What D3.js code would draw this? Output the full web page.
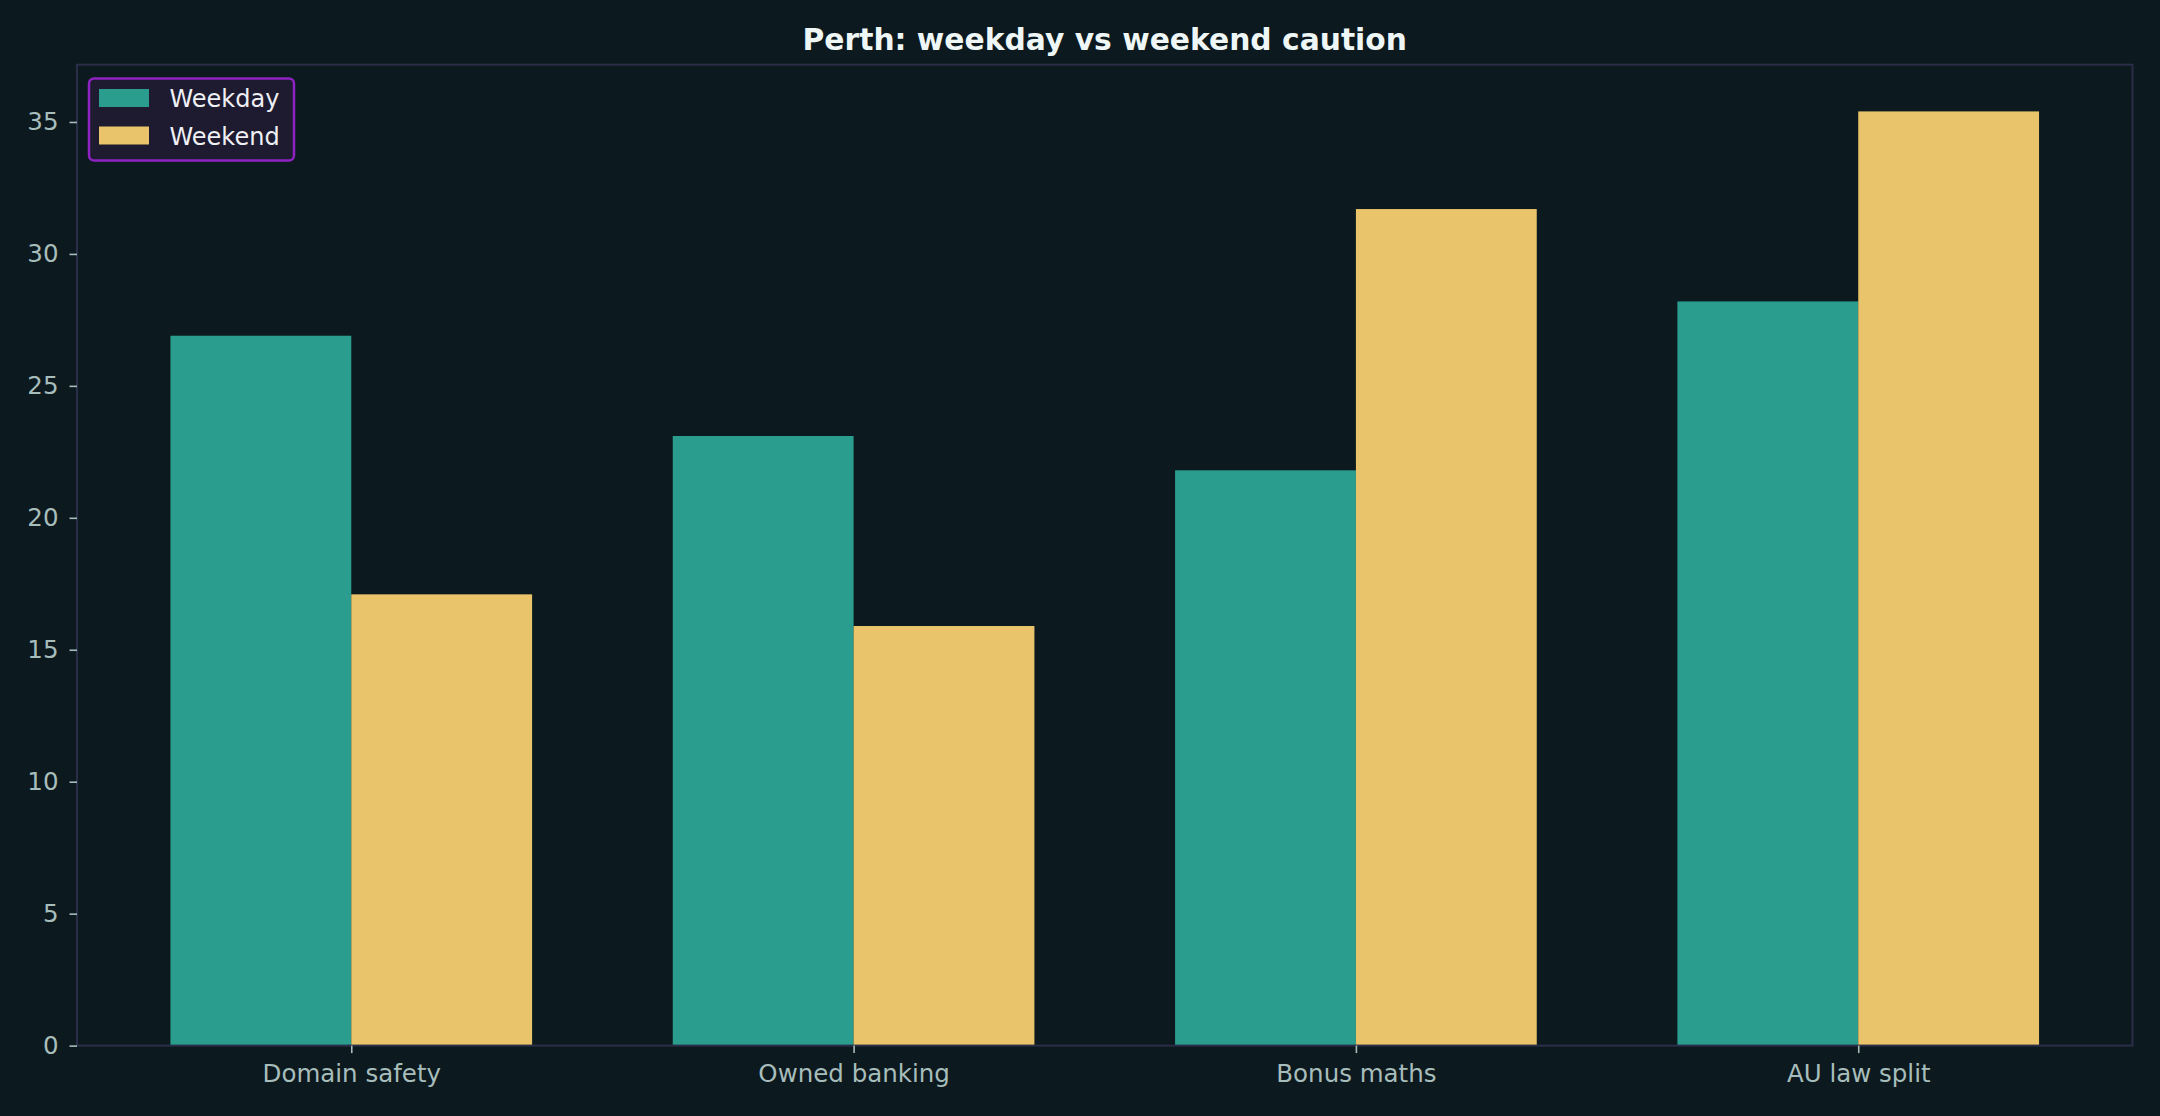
<!DOCTYPE html>
<html>
<head>
<meta charset="utf-8">
<script src="https://cdn.jsdelivr.net/npm/d3@7"></script>
<style>
  html, body { margin: 0; padding: 0; background: #0c191e; }
  svg { display: block; }
  text { font-family: "DejaVu Sans", sans-serif; }
</style>
</head>
<body>
<svg id="chart" width="2160" height="1116"></svg>
<script>
const categories = ["Domain safety", "Owned banking", "Bonus maths", "AU law split"];
const seriesNames = ["Weekday", "Weekend"];
const weekday = [26.9, 23.1, 21.8, 28.2];
const weekend = [17.1, 15.9, 31.7, 35.4];
const yTicks = [0, 5, 10, 15, 20, 25, 30, 35];
const titleText = "Perth: weekday vs weekend caution";

const W = 2160, H = 1116;
const margin = { left: 77, right: 2160 - 2132.5, top: 64.7, bottom: 1116 - 1045.6 };
const colors = ["#2a9d8f", "#e9c46a"];
const barW = 0.36;

const svg = d3.select("#chart");
svg.append("rect").attr("width", W).attr("height", H).attr("fill", "#0c191e");

const n = categories.length;
const span = (n - 1) + 2 * barW;
const x = d3.scaleLinear()
  .domain([-barW - 0.05 * span, (n - 1) + barW + 0.05 * span])
  .range([margin.left, W - margin.right]);
const yMax = d3.max(weekday.concat(weekend)) * 1.05;
const y = d3.scaleLinear().domain([0, yMax]).range([H - margin.bottom, margin.top]);

const series = [weekday, weekend];
const g = svg.append("g");
series.forEach((vals, si) => {
  g.selectAll(null).data(vals).enter().append("rect")
    .attr("x", (d, i) => x(i + (si === 0 ? -barW : 0)))
    .attr("width", (d, i) => x(i + barW) - x(i))
    .attr("y", d => y(d))
    .attr("height", d => y(0) - y(d))
    .attr("fill", colors[si]);
});

// frame
svg.append("rect")
  .attr("x", margin.left).attr("y", margin.top)
  .attr("width", W - margin.right - margin.left)
  .attr("height", H - margin.bottom - margin.top)
  .attr("fill", "none").attr("stroke", "#2a2e48").attr("stroke-width", 2);

// y axis
const yAxis = d3.axisLeft(y).tickValues(yTicks).tickSize(7.5).tickPadding(11).tickFormat(d3.format("d"));
const ya = svg.append("g").attr("transform", `translate(${margin.left},0)`).call(yAxis);
ya.select(".domain").remove();
ya.selectAll(".tick line").attr("stroke", "#a7bdbb").attr("stroke-width", 1.6);
ya.selectAll(".tick text").attr("fill", "#a7bdbb").style("font-size", "24.5px")
  .style("font-family", "DejaVu Sans");

// x axis
const xAxis = d3.axisBottom(x).tickValues(d3.range(n)).tickSize(7.5).tickPadding(12)
  .tickFormat(i => categories[i]);
const xa = svg.append("g").attr("transform", `translate(0,${H - margin.bottom})`).call(xAxis);
xa.select(".domain").remove();
xa.selectAll(".tick line").attr("stroke", "#a7bdbb").attr("stroke-width", 1.6);
xa.selectAll(".tick text").attr("fill", "#a7bdbb").style("font-size", "24.5px")
  .style("font-family", "DejaVu Sans");

// title
svg.append("text")
  .attr("x", (margin.left + W - margin.right) / 2).attr("y", 50)
  .attr("text-anchor", "middle")
  .attr("fill", "#eef6f6").style("font-size", "29.75px").style("font-weight", "bold")
  .text(titleText);

// legend
const lg = svg.append("g");
lg.append("rect").attr("x", 89).attr("y", 78.5).attr("width", 205).attr("height", 82)
  .attr("rx", 5).attr("fill", "#1e1a30").attr("stroke", "#8e22c2").attr("stroke-width", 2.5);
seriesNames.forEach((name, i) => {
  const yy = 89 + i * 37.5;
  lg.append("rect").attr("x", 99).attr("y", yy).attr("width", 50).attr("height", 18)
    .attr("fill", colors[i]);
  lg.append("text").attr("x", 169.5).attr("y", yy + 18).attr("fill", "#eef0f4")
    .style("font-size", "24px").text(name);
});
</script>
</body>
</html>
